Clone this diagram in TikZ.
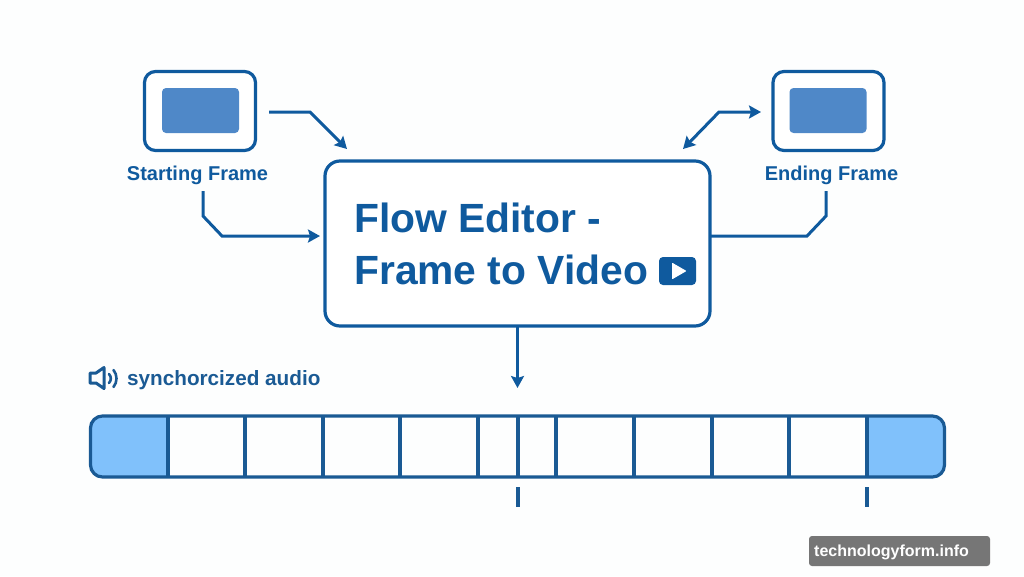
\documentclass[tikz,border=0pt]{standalone}
\usepackage{fontspec}
\setmainfont{Liberation Sans}
\usetikzlibrary{arrows.meta}
\definecolor{flowblue}{HTML}{0F5A9E}
\definecolor{darkblue}{HTML}{1A5A94}
\definecolor{innerblue}{HTML}{4F88C8}
\definecolor{capblue}{HTML}{80C1FB}
\definecolor{markgray}{HTML}{767676}
\definecolor{paper}{HTML}{FDFEFE}
\tikzset{
  framebox/.style={draw=flowblue,line width=3.2pt,rounded corners=11pt,fill=white,minimum width=111pt,minimum height=79pt,outer sep=0pt},
  framefill/.style={fill=innerblue,rounded corners=4pt,minimum width=77pt,minimum height=45pt,inner sep=0pt},
  framelabel/.style={text=flowblue,font=\fontsize{20}{24}\selectfont\bfseries,inner sep=0pt,anchor=base},
  titlelabel/.style={text=flowblue,font=\fontsize{40.8}{48}\selectfont\bfseries,inner sep=0pt,anchor=base west},
  link/.style={draw=flowblue,line width=3pt,line join=miter},
  cell/.style={draw=darkblue,line width=3.2pt}
}
\begin{document}
\begin{tikzpicture}[x=1pt,y=-1pt,>={Stealth[length=12pt,width=13pt,inset=2pt]}]
        \useasboundingbox[fill=paper] (0,0) rectangle (1024,576);

        % the two frames
        \node[framebox] (startbox) at (200,111) {};
        \node[framefill] (startfill) at (200.5,110.5) {};
        \node[framelabel] (startlabel) at (197.5,180) {Starting Frame};
        \node[framebox] (endbox) at (828.5,111) {};
        \node[framefill] (endfill) at (828,110.5) {};
        \node[framelabel] (endlabel) at (831.5,180) {Ending Frame};

        % the editor box
        \node[draw=flowblue,line width=3.2pt,rounded corners=15pt,fill=white,minimum width=385pt,minimum height=165pt,outer sep=0pt] (editor) at (517.5,243.5) {};
        \node[titlelabel] (title1) at (354,232) {Flow Editor -};
        \node[titlelabel] (title2) at (354,284) {Frame to Video};

        % play icon
        \node[fill=flowblue,rounded corners=4pt,minimum width=37pt,minimum height=28pt,inner sep=0pt] (play) at (677.5,271) {};
        \fill[white,line join=round,draw=white,line width=1pt] (672.5,263.5) -- (685.5,271) -- (672.5,278.5) -- cycle;

        % free ends of the connectors
        \coordinate (startout) at (269,112);
        \coordinate (startbend) at (310,112);
        \coordinate (editorin) at (347,149);
        \coordinate (startdown) at (203,191);
        \coordinate (startknee) at (203,216);
        \coordinate (startfoot) at (222,236);
        \coordinate (editorleft) at (320,236);
        \coordinate (endin) at (761,112);
        \coordinate (endbend) at (719,112);
        \coordinate (editorout) at (683,149);
        \coordinate (enddown) at (826,191);
        \coordinate (endknee) at (826,216);
        \coordinate (endfoot) at (807,236);
        \coordinate (editorright) at (711,236);
        \coordinate (playhead) at (517.5,388);

        \draw[link,->] (startout) -- (startbend) -- (editorin);
        \draw[link,->] (startdown) -- (startknee) -- (startfoot) -- (editorleft);
        \draw[link,<->] (editorout) -- (endbend) -- (endin);
        \draw[link] (enddown) -- (endknee) -- (endfoot) -- (editorright);
        \draw[link,->] (editor.south) -- (playhead);

        % audio label
        \draw[darkblue,line width=3pt,line join=round] (90,373) -- (96,373) -- (104,367.5) -- (104,388.5) -- (96,383) -- (90,383) -- cycle;
        \draw[darkblue,line width=2.6pt,line cap=round] (109,374) .. controls (111.5,377) and (111.5,380) .. (109,383);
        \draw[darkblue,line width=2.6pt,line cap=round] (113.5,370) .. controls (117.5,375) and (117.5,382) .. (113.5,387);
        \node[text=darkblue,font=\fontsize{20.7}{24}\selectfont\bfseries,inner sep=0pt,anchor=base west] (audio) at (127,385) {synchorcized audio};

        % the strip of frames
        \fill[capblue,rounded corners=12pt] (168,416) -- (90.5,416) -- (90.5,477) -- (168,477) -- cycle;
        \fill[capblue,rounded corners=12pt] (867,416) -- (944.5,416) -- (944.5,477) -- (867,477) -- cycle;
        \fill[capblue] (150,416) rectangle (168,477);
        \fill[capblue] (867,416) rectangle (885,477);
        \node[draw=darkblue,line width=3.2pt,rounded corners=12pt,minimum width=854pt,minimum height=61pt,outer sep=0pt] (strip) at (517.5,446.5) {};
        \foreach \x in {168,245,323,400,478,518,556,634,712,789,867} {
                \draw[cell] (\x,416) -- (\x,477);
        }

        % ticks under the strip
        \coordinate (tickA) at (518,487);
        \coordinate (tickAend) at (518,507);
        \coordinate (tickB) at (867,487);
        \coordinate (tickBend) at (867,507);
        \draw[cell] (tickA) -- (tickAend);
        \draw[cell] (tickB) -- (tickBend);

        % site mark
        \node[fill=markgray,rounded corners=3pt,minimum width=181pt,minimum height=30pt,inner sep=0pt] (markbox) at (899.5,551) {};
        \node[text=white,font=\fontsize{16}{19}\selectfont\bfseries,inner sep=0pt,anchor=base west] (marktext) at (814,556) {technologyform.info};
\end{tikzpicture}
\end{document}
